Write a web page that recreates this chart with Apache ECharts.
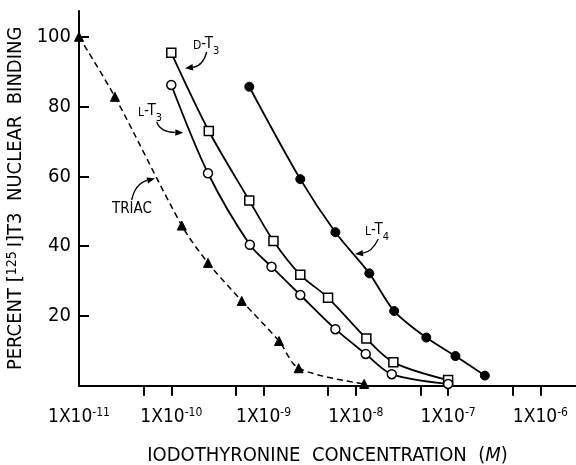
<!DOCTYPE html>
<html>
<head>
<meta charset="utf-8">
<script src="https://cdn.jsdelivr.net/npm/echarts@6/dist/echarts.min.js"></script>
<style>html,body{margin:0;padding:0;background:#fff}#c{width:576px;height:465px}</style>
</head>
<body>
<div id="c"></div>
<script>
// Concentrations (M) and percent binding
const lT4X = [7e-10, 2.5e-9, 6e-9, 1.4e-8, 2.6e-8, 5.8e-8, 1.2e-7, 2.5e-7];
const lT4Y = [85.7, 59.2, 44.0, 32.2, 21.4, 13.8, 8.5, 2.9];
const dT3X = [1.0e-10, 2.55e-10, 7e-10, 1.28e-9, 2.5e-9, 5e-9, 1.3e-8, 2.55e-8, 1e-7];
const dT3Y = [95.4, 73.0, 53.1, 41.5, 31.8, 25.2, 13.5, 6.7, 1.6];
const lT3X = [1e-10, 2.5e-10, 7.1e-10, 1.22e-9, 2.5e-9, 6e-9, 1.28e-8, 2.45e-8, 1e-7];
const lT3Y = [86.2, 60.9, 40.4, 34.1, 26.0, 16.2, 9.1, 3.3, 0.5];
const triacX = [1e-11, 2.45e-11, 1.3e-10, 2.5e-10, 5.8e-10, 1.47e-9, 2.4e-9, 1.23e-8];
const triacY = [100, 82.8, 45.9, 35.2, 24.3, 12.8, 5.0, 0.5];
// Tick positions
const xLabelValues = [1e-11, 1e-10, 1e-9, 1e-8, 1e-7, 1e-6];
const xTickValues = [5e-11, 1e-10, 5e-10, 1e-9, 5e-9, 1e-8, 5e-8, 1e-7, 5e-7, 1e-6];
const yTickValues = [20, 40, 60, 80, 100];

const FONT = "'DejaVu Sans Condensed', 'Liberation Sans Narrow', sans-serif";
const zip = (xs, ys) => xs.map((x, i) => [x, ys[i]]);

const chart = echarts.init(document.getElementById('c'), null, {renderer: 'canvas'});

function arrow(x1, y1, cx, cy, x2, y2) {
  const ang = Math.atan2(y2 - cy, x2 - cx);
  const L = 8, W = 3.2;
  const bx = x2 - L * Math.cos(ang), by = y2 - L * Math.sin(ang);
  const px = -Math.sin(ang) * W, py = Math.cos(ang) * W;
  return [
    {type: 'bezierCurve', shape: {x1, y1, x2: bx, y2: by, cpx1: cx, cpy1: cy},
     style: {stroke: '#000', lineWidth: 1.3, fill: null}},
    {type: 'polygon', shape: {points: [[x2, y2], [bx + px, by + py], [bx - px, by - py]]},
     style: {fill: '#000'}}
  ];
}
const annRich = {
  sc: {fontSize: 12, fontFamily: FONT, lineHeight: 20, verticalAlign: 'top', padding: [3, 0, 0, 0], fill: '#000'},
  n: {fontSize: 15, fontFamily: FONT, lineHeight: 20, verticalAlign: 'top', fill: '#000'},
  sb: {fontSize: 11, fontFamily: FONT, lineHeight: 20, verticalAlign: 'bottom', fill: '#000'}
};
function label(x, y, text) {
  return {type: 'text', x, y, style: {text, rich: annRich, font: '15px ' + FONT, fill: '#000'}};
}
const lineSeries = (name, xs, ys, symbol, fill, dashed) => ({
  name, type: 'line', data: zip(xs, ys), smooth: 0.3, clip: false,
  symbol, symbolSize: 9,
  lineStyle: {color: '#000', width: dashed ? 1.5 : 1.8, type: dashed ? [6, 4] : 'solid'},
  itemStyle: {color: fill, borderColor: '#000', borderWidth: fill === '#fff' ? 1.5 : 1}
});

const option = {
  backgroundColor: '#fff',
  animation: false,
  grid: {left: 79, top: 11, width: 497, height: 374.7, containLabel: false, outerBoundsMode: 'none'},
  xAxis: {
    type: 'log', logBase: 10, min: 1e-11, max: 2.43e-6,
    name: '{t|IODOTHYRONINE  CONCENTRATION  (}{i|M}{t|)}',
    nameLocation: 'middle', nameGap: 60,
    nameTextStyle: {rich: {t: {fontSize: 20, fontFamily: FONT, color: '#000'},
                           i: {fontSize: 20, fontFamily: FONT, fontStyle: 'italic', color: '#000'}}},
    axisLine: {lineStyle: {color: '#000', width: 2}},
    axisTick: {show: true, inside: false, length: 10, lineStyle: {color: '#000', width: 2}, customValues: xTickValues},
    axisLabel: {
      customValues: xLabelValues, margin: 21, color: '#000',
      formatter: v => '{b|1X10}{s|-' + Math.round(-Math.log10(v)) + '}',
      rich: {b: {fontSize: 19, fontFamily: FONT, lineHeight: 20, color: '#000'},
             s: {fontSize: 12, fontFamily: FONT, verticalAlign: 'top', lineHeight: 12, color: '#000'}}
    },
    splitLine: {show: false}, minorTick: {show: false}
  },
  yAxis: {
    type: 'value', min: 0, max: 107.4,
    name: '{t|PERCENT [}{s|125 }{t|I]T3  NUCLEAR  BINDING}',
    nameLocation: 'middle', nameGap: 42, nameRotate: 90,
    nameTextStyle: {rich: {t: {fontSize: 20, fontFamily: FONT, color: '#000'},
                           s: {fontSize: 14, fontFamily: FONT, color: '#000', padding: [0, 0, 6, 0]}}},
    axisLine: {show: true, lineStyle: {color: '#000', width: 2}},
    axisTick: {show: true, inside: true, length: 10, lineStyle: {color: '#000', width: 2}, customValues: yTickValues},
    axisLabel: {customValues: yTickValues, margin: 8, color: '#000', fontSize: 20, fontFamily: FONT},
    splitLine: {show: false}
  },
  series: [
    lineSeries('L-T4', lT4X, lT4Y, 'circle', '#000', false),
    lineSeries('D-T3', dT3X, dT3Y, 'rect', '#fff', false),
    lineSeries('L-T3', lT3X, lT3Y, 'circle', '#fff', false),
    lineSeries('TRIAC', triacX, triacY, 'triangle', '#000', true)
  ],
  graphic: [
    label(193, 37, '{sc|D}{n|-T}{sb|3}'),
    ...arrow(206.7, 52, 203, 66, 185, 68.3),
    label(138, 104, '{sc|L}{n|-T}{sb|3}'),
    ...arrow(156.7, 121.7, 160, 132, 183.3, 132.7),
    label(112, 202, '{n|TRIAC}'),
    ...arrow(131.7, 200, 135, 184, 155, 178.3),
    label(365, 223, '{sc|L}{n|-T}{sb|4}'),
    ...arrow(378.3, 239, 372, 252, 355, 254)
  ]
};
chart.setOption(option);
</script>
</body>
</html>
